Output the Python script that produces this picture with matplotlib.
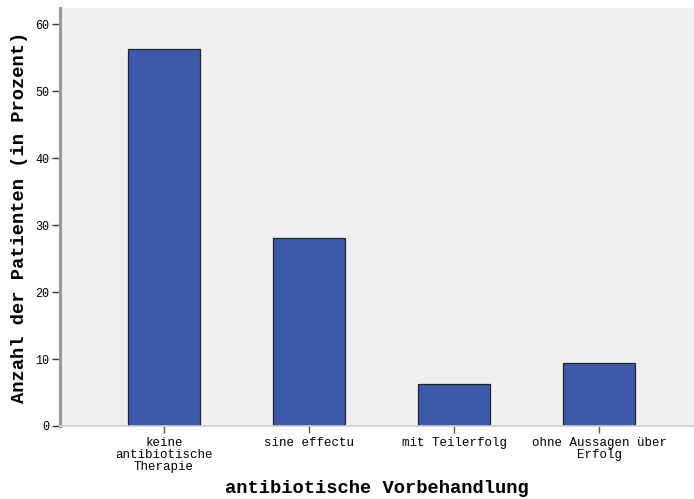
import numpy as np
import matplotlib.pyplot as plt

# data
CATEGORIES = ["keine\nantibiotische\nTherapie", "sine effectu",
              "mit Teilerfolg", "ohne Aussagen über\nErfolg"]
PERCENT = [56.25, 28.125, 6.25, 9.375]
YTICKS = [0, 10, 20, 30, 40, 50, 60]

BAR_COLOR = "#3d59aa"
BG_COLOR = "#efefef"

plt.rcParams['font.family'] = ['Liberation Mono', 'DejaVu Sans Mono']

fig = plt.figure(figsize=(6.94, 4.99), dpi=100)
ax = fig.add_axes([60 / 694, 1 - 426 / 499, 634 / 694, 418 / 499])
ax.set_facecolor(BG_COLOR)

positions = np.arange(len(PERCENT))
ax.bar(positions, PERCENT, width=0.5, color=BAR_COLOR,
       edgecolor="#222222", linewidth=0.9, zorder=2)

ax.set_xlim(-0.717, 3.655)
ax.set_ylim(0, 62.4)
ax.set_yticks(YTICKS)
ax.set_yticklabels([str(v) for v in YTICKS], fontsize=8.5)
ax.set_xticks(positions)
ax.set_xticklabels(CATEGORIES, fontsize=9, linespacing=1.0)

ax.tick_params(axis="y", direction="out", length=6, width=1, color="#333333", pad=2)
ax.tick_params(axis="x", direction="out", length=5, width=1, color="#555555", pad=3)

for side in ["top", "right"]:
    ax.spines[side].set_visible(False)
ax.spines["left"].set_color("#999999")
ax.spines["left"].set_linewidth(2.2)
ax.spines["bottom"].set_color("#cccccc")
ax.spines["bottom"].set_linewidth(1.2)

ax.set_ylabel("Anzahl der Patienten (in Prozent)", fontsize=13.5,
              fontweight="bold", labelpad=5)
ax.set_xlabel("antibiotische Vorbehandlung", fontsize=13.5,
              fontweight="bold", labelpad=5)

fig.savefig("out.png", dpi=100)
